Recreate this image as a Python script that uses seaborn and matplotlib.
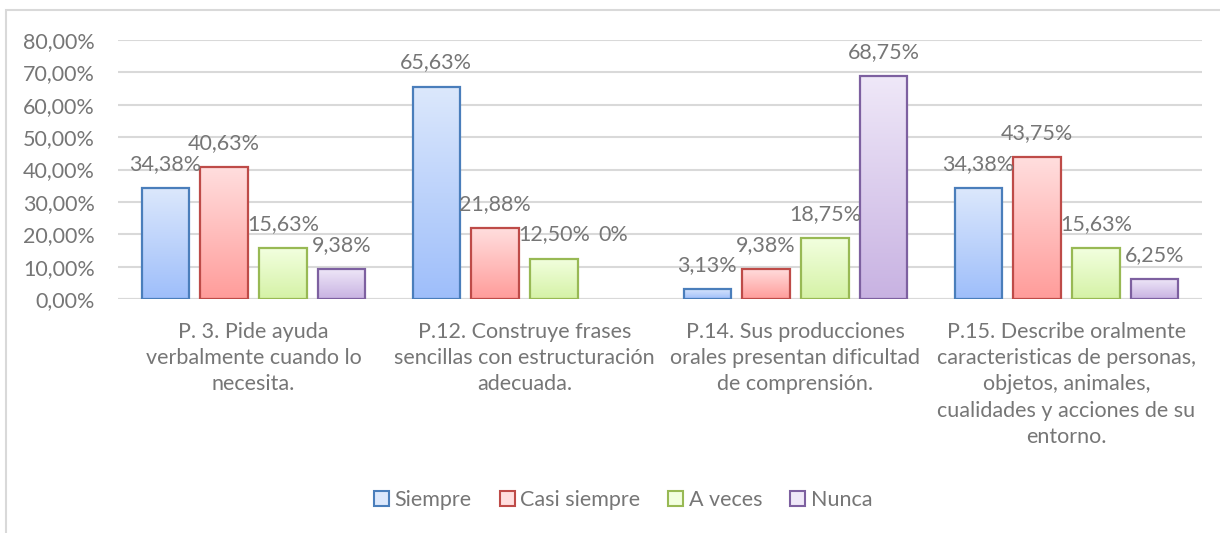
import numpy as np
import pandas as pd
import matplotlib
matplotlib.use("Agg")
import matplotlib.pyplot as plt
from matplotlib.colors import LinearSegmentedColormap
from matplotlib.patches import Rectangle, Patch
import seaborn as sns

# datos
preguntas = [
    "P. 3. Pide ayuda\nverbalmente cuando lo\nnecesita.",
    "P.12. Construye frases\nsencillas con estructuración\nadecuada.",
    "P.14. Sus producciones\norales presentan dificultad\nde comprensión.",
    "P.15. Describe oralmente\ncaracteristicas de personas,\nobjetos, animales,\ncualidades y acciones de su\nentorno.",
]
respuestas = ["Siempre", "Casi siempre", "A veces", "Nunca"]
siempre = [0.3438, 0.6563, 0.0313, 0.3438]
casi_siempre = [0.4063, 0.2188, 0.0938, 0.4375]
a_veces = [0.1563, 0.1250, 0.1875, 0.1563]
nunca = [0.0938, 0.0, 0.6875, 0.0625]

series = [siempre, casi_siempre, a_veces, nunca]
df = pd.DataFrame({
    "pregunta": [p for _ in respuestas for p in preguntas],
    "respuesta": [r for r in respuestas for _ in preguntas],
    "valor": [v for s in series for v in s],
})

bordes = ["#4a7ebb", "#be4b48", "#98b954", "#7d60a0"]
claros = ["#dce8fc", "#ffdede", "#f2ffdf", "#efe8f8"]
oscuros = ["#9ebefa", "#ff9c9a", "#d5f2a6", "#c8b2e2"]
gris = "#767676"
fs = 15.5

sns.set_theme(style="white")
plt.rcParams["font.family"] = ["Lato", "DejaVu Sans"]

fig = plt.figure(figsize=(12.2, 5.33), dpi=100)
ax = fig.add_axes([118 / 1220, 1 - 299 / 533, (1202 - 118) / 1220, (299 - 40) / 533])

sns.barplot(data=df, x="pregunta", y="valor", hue="respuesta", order=preguntas,
            hue_order=respuestas, palette=claros, width=0.87, gap=0.2,
            ax=ax, legend=False, zorder=3)

ax.set_ylim(0, 0.8)
ax.set_xlim(-0.5, 3.5)
ax.set_yticks(np.arange(0, 0.81, 0.1))
ax.set_yticklabels([f"{v:.2f}%".replace(".", ",") for v in np.arange(0, 81, 10)])
ax.yaxis.grid(True, color="#d9d9d9", linewidth=1.5, zorder=0)
ax.set_axisbelow(True)
for s in ax.spines.values():
    s.set_visible(False)
ax.axhline(0, color="#d9d9d9", linewidth=1.5, zorder=1)
ax.tick_params(axis="y", labelsize=fs, colors=gris, pad=16.5, length=0)
ax.tick_params(axis="x", labelsize=fs, colors=gris, pad=16.5, length=0)
for t in ax.get_xticklabels():
    t.set_linespacing(1.39)
ax.set_xlabel("")
ax.set_ylabel("")

# barras con degradado tipo Excel
for i, cont in enumerate(ax.containers):
    cmap = LinearSegmentedColormap.from_list("g", [oscuros[i], claros[i]])
    grad = np.linspace(0, 1, 256).reshape(-1, 1)
    for j, (bar, val) in enumerate(zip(cont, series[i])):
        x, w, h = bar.get_x(), bar.get_width(), bar.get_height()
        if val == 0:
            bar.set_visible(False)
        else:
            bar.set_facecolor("none")
            bar.set_edgecolor(bordes[i])
            bar.set_linewidth(1.6)
            bar.set_zorder(4)
            img = ax.imshow(grad, extent=[x, x + w, 0, h], origin="lower", cmap=cmap,
                            aspect="auto", zorder=3, interpolation="bicubic")
            img.set_clip_path(bar)
        texto = f"{val * 100:.2f}%".replace(".", ",") if val > 0 else "0%"
        # la etiqueta del 0% queda a la altura de la etiqueta vecina, como en Excel
        ybase = val if val > 0 else series[i - 1][j]
        ax.annotate(texto, (x + w / 2, ybase), xytext=(0, 18), textcoords="offset pixels",
                    ha="center", va="baseline", fontsize=fs, color=gris, zorder=6)

ax.set_xlim(-0.5, 3.5)
ax.set_ylim(0, 0.8)

handles = [Patch(facecolor=claros[i], edgecolor=bordes[i], linewidth=1.5, label=r)
           for i, r in enumerate(respuestas)]
fig.legend(handles=handles, loc="center", bbox_to_anchor=(623 / 1220, 1 - 500 / 533), ncol=4,
           frameon=False, fontsize=fs, labelcolor=gris, handlelength=0.7, handleheight=0.7,
           handletextpad=0.25, columnspacing=1.3)

# marco del gráfico
fig.patches.append(Rectangle((6 / 1220, -0.1), 1.2, 1.1 - 10 / 533, transform=fig.transFigure,
                             fill=False, edgecolor="#d9d9d9", linewidth=1.5))

fig.savefig("out.png", dpi=100)
